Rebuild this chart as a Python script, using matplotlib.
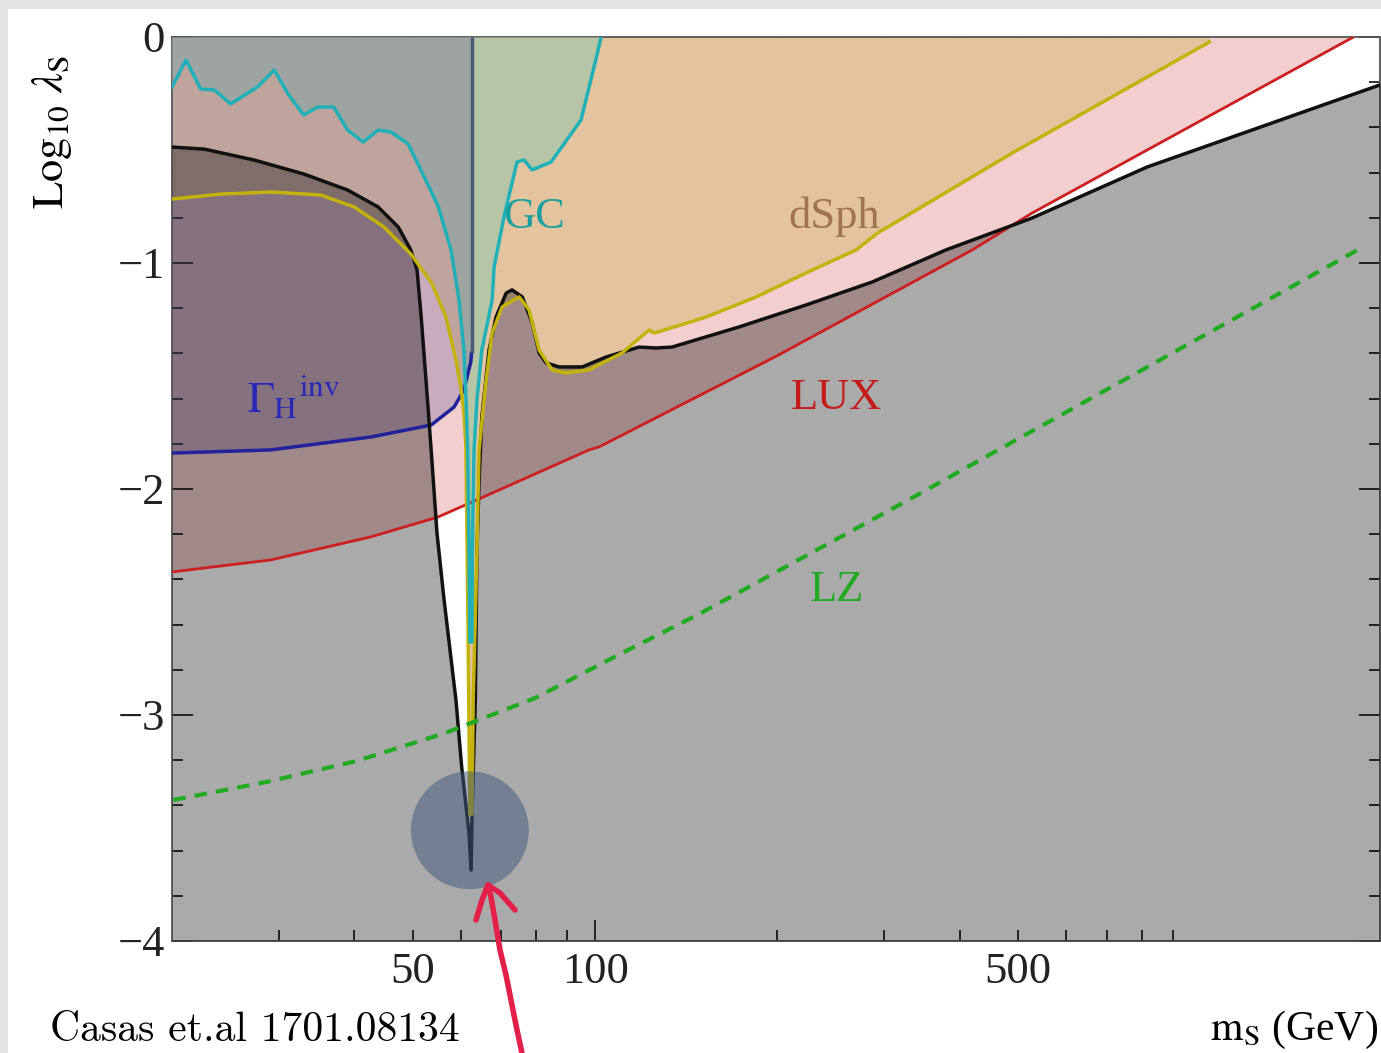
import matplotlib
matplotlib.use("Agg")
import matplotlib.pyplot as plt
import numpy as np
from matplotlib.lines import Line2D
from matplotlib.patches import Rectangle

plt.rcParams["font.family"] = ["Liberation Serif", "DejaVu Serif"]
plt.rcParams["mathtext.fontset"] = "stix"

# relic abundance boundary (black), log10 lambda_S vs m_S [GeV]
relic_m = [20, 22.6, 27.3, 33.0, 39.0, 43.8, 47.3, 49.6, 50.8, 51.6, 52.6, 53.6,
           54.8, 56.3, 58.9, 60.2, 61.9, 62.4, 62.6, 63.4, 63.8, 64.3, 65.0, 66.8,
           68.6, 71.3, 72.9, 75.8, 78.7, 80.8, 83.0, 87.2, 95.2, 104.3, 118.2,
           126.1, 134.0, 172.9, 223, 287, 380, 527, 817, 1980]
relic_y = [-0.487, -0.496, -0.544, -0.606, -0.677, -0.752, -0.841, -0.942, -1.031,
           -1.239, -1.531, -1.827, -2.195, -2.491, -2.934, -3.230, -3.522, -3.686,
           -3.451, -2.934, -2.27, -1.973, -1.681, -1.385, -1.239, -1.133, -1.119,
           -1.150, -1.265, -1.398, -1.442, -1.460, -1.460, -1.416, -1.372, -1.376,
           -1.372, -1.283, -1.186, -1.084, -0.942, -0.801, -0.575, -0.212]

# dSph (yellow)
dsph_m = [20, 24.1, 29.1, 35.2, 40.0, 44.8, 49.6, 53.7, 56.7, 58.9, 60.1, 60.8,
          61.2, 61.6, 62.1, 62.6, 62.9, 63.8, 64.3, 66.0, 67.6, 70.2, 74.9, 77.8,
          80.8, 84.9, 89.5, 97.7, 110.8, 122.8, 125.2, 152.6, 184.6, 223, 270,
          293, 489, 1035]
dsph_y = [-0.717, -0.695, -0.686, -0.699, -0.752, -0.841, -0.960, -1.088, -1.239,
          -1.429, -1.562, -1.681, -1.827, -2.49, -3.44, -3.44, -2.93, -2.27, -1.83,
          -1.53, -1.31, -1.195, -1.150, -1.208, -1.385, -1.473, -1.487, -1.473,
          -1.398, -1.296, -1.310, -1.239, -1.150, -1.044, -0.942, -0.867, -0.513,
          -0.022]

# Galactic centre (cyan)
gc_m = [20, 21.1, 22.3, 23.5, 25.0, 27.7, 29.5, 31.1, 33.0, 34.8, 37.0, 39.0,
        41.4, 43.8, 46.0, 49.1, 52.2, 55.1, 57.8, 59.6, 60.7, 61.2, 61.6, 61.9,
        62.1, 62.6, 62.7, 63.1, 63.8, 65.0, 67.6, 68.1, 70.7, 74.3, 76.3, 78.7,
        84.6, 94.8, 100.8, 102.3]
gc_y = [-0.221, -0.102, -0.230, -0.235, -0.296, -0.221, -0.146, -0.252, -0.345,
        -0.310, -0.310, -0.412, -0.465, -0.412, -0.420, -0.473, -0.619, -0.752,
        -0.942, -1.164, -1.385, -1.606, -1.827, -2.270, -2.677, -2.677, -2.270,
        -1.827, -1.606, -1.385, -1.164, -1.018, -0.796, -0.553, -0.544, -0.588,
        -0.553, -0.367, -0.075, 0.0]

# invisible Higgs width (blue), ends at m_H / 2
inv_m = [20, 29.1, 42.6, 53.6, 58.5, 60.7, 62.3, 62.5]
inv_y = [-1.841, -1.827, -1.77, -1.717, -1.637, -1.562, -1.44, -1.40]

# LUX (red)
lux_m = [20, 29.1, 42.6, 55.0, 64.8, 97.7, 101.5, 200, 420, 527, 1790]
lux_y = [-2.367, -2.314, -2.212, -2.124, -2.04, -1.827, -1.814, -1.41, -0.942,
         -0.779, 0.0]

# LZ projection (green dashed)
lz_m = [20.1, 28.7, 40.3, 56.5, 79.6, 111.7, 148.6, 329, 1856]
lz_y = [-3.376, -3.296, -3.204, -3.080, -2.925, -2.721, -2.553, -2.049, -0.929]

W, H = 1381, 1053
fig = plt.figure(figsize=(W / 100, H / 100), dpi=100)
fig.patch.set_facecolor("#e4e4e4")
fig.add_artist(Rectangle((8 / W, 0), 1, 1 - 9 / H, transform=fig.transFigure,
                         facecolor="white", edgecolor="none", zorder=-10))

ax = fig.add_axes([172 / W, 1 - 941 / H, 1208 / W, 904 / H])
ax.set_xscale("log")
ax.set_xlim(20, 1980)
ax.set_ylim(-4, 0)

# excluded regions
ax.fill_between(lux_m, lux_y, 0, color="#f2cece", lw=0, zorder=1)
ax.fill_between(dsph_m, dsph_y, 0, color="#e3c49f", lw=0, zorder=2)
ax.fill_between(gc_m, gc_y, 0, color="#b5c5a6", lw=0, zorder=3)
ax.fill_between(inv_m, inv_y, 0, color="#695a96", alpha=0.3, lw=0, zorder=4)
ax.fill_between(relic_m, -4, relic_y, color="black", alpha=0.335, lw=0, zorder=5)

# boundaries
ax.plot(lux_m, lux_y, color="#cc1f1f", lw=2, zorder=6)
ax.plot(inv_m, inv_y, color="#22229a", lw=2.5, zorder=6)
ax.vlines(inv_m[-1], inv_y[-1], 0, color="#4b5878", lw=2.5, zorder=6)
ax.plot(relic_m, relic_y, color="#111111", lw=2.5, zorder=7)
ax.plot(dsph_m, dsph_y, color="#c4b20c", lw=2.5, zorder=8)
ax.plot(gc_m, gc_y, color="#22b0b8", lw=2.5, zorder=9)
ax.plot(lz_m, lz_y, color="#22aa22", lw=3, dashes=(3, 2.2), zorder=9)

# labels
ax.text(79.3, -0.796, "GC", color="#1aa0a0", fontsize=32, ha="center", va="center", zorder=10)
ax.text(248, -0.796, "dSph", color="#a0744c", fontsize=32, ha="center", va="center", zorder=10)
ax.text(250, -1.597, "LUX", color="#c41a1a", fontsize=32, ha="center", va="center", zorder=10)
ax.text(251, -2.447, "LZ", color="#22aa22", fontsize=32, ha="center", va="center", zorder=10)
ax.text(31.8, -1.597, r"$\Gamma_\mathrm{H}{}^\mathrm{inv}$", color="#2828b8", fontsize=32,
        ha="center", va="center", zorder=10)

# highlight circle
ax.scatter([62.1], [-3.51], s=7200, color="#3d557d", alpha=0.5, edgecolors="none", zorder=11)

# axes styling
x_minor = [30, 40, 50, 60, 70, 80, 90, 200, 300, 400, 500, 600, 700, 800, 900]
x_minor_labels = ["50" if v == 50 else "500" if v == 500 else "" for v in x_minor]
ax.set_xticks([100], labels=["100"])
ax.set_xticks(x_minor, labels=x_minor_labels, minor=True)
ax.set_yticks([-4, -3, -2, -1, 0], labels=["\u22124", "\u22123", "\u22122", "\u22121", "0"])
ax.set_yticks([-3.8, -3.6, -3.4, -3.2, -2.8, -2.6, -2.4, -2.2, -1.8, -1.6, -1.4, -1.2,
               -0.8, -0.6, -0.4, -0.2], minor=True)
ax.tick_params(which="both", direction="in", top=True, right=True, color="#333333",
               width=1.4, labelsize=32, labelcolor="#222222")
ax.tick_params(which="major", length=15)
ax.tick_params(which="minor", length=8)
ax.tick_params(axis="x", which="both", pad=8)
ax.tick_params(axis="y", which="both", pad=5)
for sp in ax.spines.values():
    sp.set_color("#555555")
    sp.set_linewidth(1.3)

fig.text(52 / W, 1 - 132 / H, r"$\mathrm{Log}_{10}\ \lambda_\mathrm{S}$", rotation=90,
         fontsize=32, ha="center", va="center")
fig.text(1378 / W, 1 - 1030 / H, r"$\mathrm{m_S}$ (GeV)", fontsize=30,
         ha="right", va="center")
fig.text(50 / W, 1 - 1030 / H, "Casas et.al 1701.08134", fontsize=30,
         family=["cmr10", "DejaVu Serif"], ha="left", va="center")

# hand drawn arrow
shaft = [(522, 1053), (517, 1030), (512, 1005), (506, 975), (500, 950), (495, 920),
         (491, 897), (488, 885)]
barb_l = [(488, 885), (482, 900), (476, 920)]
barb_r = [(488, 885), (500, 893), (515, 910)]
for pts in (shaft, barb_l, barb_r):
    xs = [p[0] / W for p in pts]
    ys = [1 - p[1] / H for p in pts]
    fig.add_artist(Line2D(xs, ys, transform=fig.transFigure, color="#e3204a", lw=4,
                          solid_capstyle="round", zorder=20))

fig.savefig("out.png", dpi=100, facecolor=fig.get_facecolor())
